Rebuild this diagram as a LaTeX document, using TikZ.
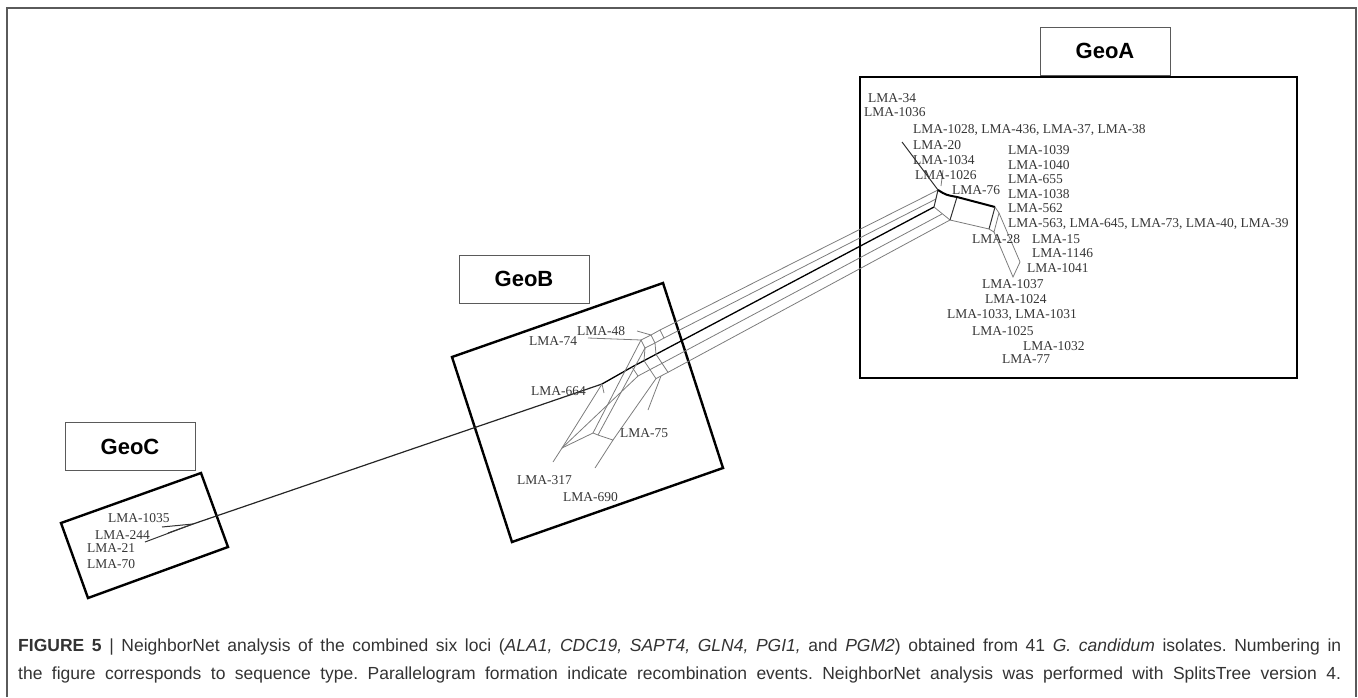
\documentclass[tikz,border=0pt]{standalone}
\usepackage{fontspec}
\setmainfont{Liberation Serif}
\newfontfamily\capfont{Liberation Sans}
\usepackage{tikz}
\definecolor{netgray}{HTML}{7C7C7C}
\definecolor{labelgray}{HTML}{363636}
\definecolor{framegray}{HTML}{5A5A5A}
\definecolor{captiongray}{HTML}{333333}
\frenchspacing

\begin{document}
\begin{tikzpicture}[x=1pt,y=-1pt,
  lma/.style={anchor=west,inner sep=0pt,text=labelgray,
    font=\fontsize{13.5}{14}\selectfont},
  geotag/.style={draw=framegray,line width=0.9pt,minimum width=130pt,
    minimum height=48pt,inner sep=0pt,font=\capfont\bfseries\fontsize{22}{24}\selectfont},
  region/.style={draw=black,line width=2.4pt,line join=miter},
  split/.style={draw=netgray,line width=0.8pt},
  dark/.style={draw=black!80,line width=1pt},
  backbone/.style={draw=black,line width=1.3pt},
  caption/.style={anchor=west,inner sep=0pt,text=captiongray,
    font=\capfont\fontsize{17.5}{20}\selectfont}
]
\useasboundingbox (0,0) rectangle (1358,697);
\draw[framegray,line width=1.2pt] (7,697) -- (7,8) -- (1356,8) -- (1356,697);

% regions and their tags
\draw[region] (860,77) rectangle (1297,378);
\draw[region] (452,357) -- (663,283) -- (723,468) -- (512,542) -- cycle;
\draw[region] (61,523) -- (201,473) -- (228,547) -- (88,598) -- cycle;
\node[geotag] (geoA) at (1105,51) {GeoA};
\node[geotag] (geoB) at (524,279) {GeoB};
\node[geotag] (geoC) at (130,446.5) {GeoC};

% network points
\coordinate (cj) at (193,524);
\coordinate (ca) at (162,527);
\coordinate (cb) at (145,542);
\coordinate (cc) at (168,533);
\coordinate (b0) at (602,384);
\coordinate (b0t) at (604,393);
\coordinate (l74) at (588,338);
\coordinate (l48) at (637,331);
\coordinate (TA) at (641,340);
\coordinate (TB) at (651,335);
\coordinate (TE) at (660,330);
\coordinate (TD) at (645,348);
\coordinate (TC) at (655,343);
\coordinate (TF) at (664,338);
\coordinate (M1) at (632,367);
\coordinate (M2) at (644,360.6);
\coordinate (M3) at (656,354.3);
\coordinate (N1) at (638,376);
\coordinate (N2) at (650,369.6);
\coordinate (N3) at (662,363.3);
\coordinate (O2) at (656,378.6);
\coordinate (O3) at (668,372.3);
\coordinate (Q1) at (562,448);
\coordinate (Q2a) at (593,433);
\coordinate (Q2b) at (598,435);
\coordinate (Q3) at (613,440);
\coordinate (e317) at (553,462);
\coordinate (e690) at (595,468);
\coordinate (l75) at (648,410);
\coordinate (l75b) at (661,376);
\coordinate (A1) at (938,190);
\coordinate (A2) at (934,207);
\coordinate (A3) at (950,220);
\coordinate (A4) at (957,197);
\coordinate (A12) at (936,199);
\coordinate (A23) at (942,214);
\coordinate (B1) at (995,207);
\coordinate (B2) at (989,229);
\coordinate (B1r) at (999,213);
\coordinate (B2r) at (994,232);
\coordinate (C1) at (1020,262);
\coordinate (C2) at (1013,277);
\coordinate (l20) at (902,142);
\coordinate (l26) at (943,170);
\coordinate (l26b) at (941,186);

% GeoC
\draw[dark] (ca) -- (cj);
\draw[dark] (cb) -- (cj);
\draw[dark] (cc) -- (cj);
\draw[backbone,line width=1.2pt,draw=black!85] (cj) -- (b0);

% GeoB
\draw[backbone] (b0) -- (M1) -- (A2);
\draw[split] (b0) -- (b0t);
\draw[split] (l74) -- (TA);
\draw[split] (l48) -- (TB);
\draw[split] (TA) -- (TB) -- (TE) -- (TF) -- (TC) -- (TD) -- cycle;
\draw[split] (TB) -- (TC);
\draw[split] (TD) -- (M2);
\draw[split] (TC) -- (M3);
\draw[split] (M1) -- (N1) -- (N2) -- (N3) -- (M3);
\draw[split] (M2) -- (N2) -- (O2) -- (O3) -- (N3);
\draw[split] (TA) -- (Q2a);
\draw[split] (TD) -- (Q2b);
\draw[split] (b0) -- (Q1) -- (e317);
\draw[split] (Q1) -- (N1);
\draw[split] (Q1) -- (Q2a) -- (Q2b) -- (Q3) -- (e690);
\draw[split] (Q3) -- (O2);
\draw[split] (l75) -- (l75b);

% bundle
\draw[split] (TE) -- (A1);
\draw[split] (TF) -- (A12);
\draw[split] (N3) -- (A23);
\draw[split] (O3) -- (A3);

% GeoA
\draw[dark] (l20) -- (A1);
\draw[split] (l26) -- (l26b);
\draw[dark] (A1) -- (A2);
\draw[split] (A2) -- (A3) -- (B2);
\draw[dark] (A4) -- (A3);
\draw[backbone,line width=2pt] (A1) .. controls (946,195) .. (A4) -- (B1);
\draw[dark] (B1) -- (B2);
\draw[split] (B1) -- (B1r) -- (B2r) -- (B2);
\draw[split] (B1r) -- (C1) -- (C2) -- (B2r);

% labels GeoA
\node[lma] (n34) at (868,98) {LMA-34};
\node[lma] (n1036) at (864,112) {LMA-1036};
\node[lma] (n1028) at (913,130) {LMA-1028, LMA-436, LMA-37, LMA-38};
\node[lma] (n20) at (913,145) {LMA-20};
\node[lma] (n1034) at (913,160) {LMA-1034};
\node[lma] (n1026) at (915,175) {LMA-1026};
\node[lma] (n76) at (952,190) {LMA-76};
\node[lma] (n1039) at (1008,150) {LMA-1039};
\node[lma] (n1040) at (1008,165) {LMA-1040};
\node[lma] (n655) at (1008,179) {LMA-655};
\node[lma] (n1038) at (1008,194) {LMA-1038};
\node[lma] (n562) at (1008,208) {LMA-562};
\node[lma] (n563) at (1008,224) {LMA-563, LMA-645, LMA-73, LMA-40, LMA-39};
\node[lma] (n28) at (972,239) {LMA-28};
\node[lma] (n15) at (1032,239) {LMA-15};
\node[lma] (n1146) at (1032,253) {LMA-1146};
\node[lma] (n1041) at (1027,268) {LMA-1041};
\node[lma] (n1037) at (982,284) {LMA-1037};
\node[lma] (n1024) at (985,299) {LMA-1024};
\node[lma] (n1033) at (947,315) {LMA-1033, LMA-1031};
\node[lma] (n1025) at (972,331) {LMA-1025};
\node[lma] (n1032) at (1023,346) {LMA-1032};
\node[lma] (n77) at (1002,359) {LMA-77};

% labels GeoB
\node[lma] (n48) at (577,331) {LMA-48};
\node[lma] (n74) at (529,341) {LMA-74};
\node[lma] (n664) at (531,391) {LMA-664};
\node[lma] (n75) at (620,433) {LMA-75};
\node[lma] (n317) at (517,480) {LMA-317};
\node[lma] (n690) at (563,497) {LMA-690};

% labels GeoC
\node[lma] (n1035) at (108,518) {LMA-1035};
\node[lma] (n244) at (95,535) {LMA-244};
\node[lma] (n21) at (87,548) {LMA-21};
\node[lma] (n70) at (87,564) {LMA-70};

% caption
\node[caption] (cap1) at (18,647) {\makebox[1323pt][s]{\textbf{FIGURE 5} | NeighborNet analysis of the combined six loci (\textit{ALA1, CDC19, SAPT4, GLN4, PGI1,} and \textit{PGM2}) obtained from 41 \textit{G. candidum} isolates. Numbering in}};
\node[caption] (cap2) at (18,675) {\makebox[1323pt][s]{the figure corresponds to sequence type. Parallelogram formation indicate recombination events. NeighborNet analysis was performed with SplitsTree version 4.}};
\end{tikzpicture}
\end{document}
